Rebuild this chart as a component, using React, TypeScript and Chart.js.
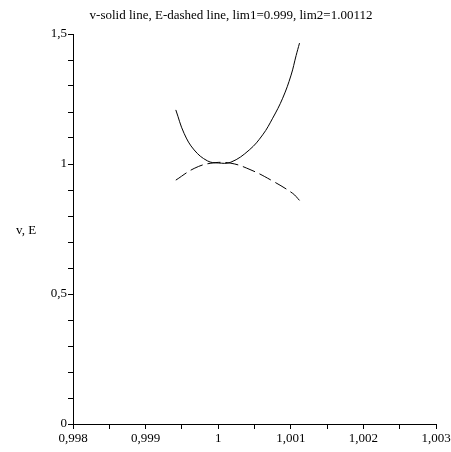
import React, { useEffect, useRef } from "react";
import { Chart, registerables } from "chart.js";

Chart.register(...registerables);

const titleText = "v-solid line, E-dashed line, lim1=0.999, lim2=1.00112";
const yAxisLabel = "v, E";

const vX = [0.999416, 0.99953, 0.999669, 0.999852, 1.0, 1.000175, 1.000428, 1.000612, 1.00075, 1.000888, 1.001004, 1.001073, 1.00112];
const vY = [1.208, 1.118, 1.054, 1.012, 1.004, 1.007, 1.054, 1.112, 1.176, 1.253, 1.342, 1.417, 1.465];

const eX = [0.999416, 0.999669, 0.999899, 1.000175, 1.000452, 1.000728, 1.001026, 1.00112];
const eY = [0.938, 0.983, 1.003, 1.003, 0.977, 0.938, 0.887, 0.86];

const xMin = 0.998;
const xMax = 1.003;
const xStep = 0.0005;
const yMin = 0;
const yMax = 1.5;
const yStep = 0.1;

const FONT = '"Liberation Serif", "DejaVu Serif", serif';

function fmt(v: number): string {
  let s = v.toFixed(3).replace(/0+$/, "").replace(/\.$/, "");
  return s.replace(".", ",");
}

export default function App() {
  const ref = useRef<HTMLCanvasElement | null>(null);

  useEffect(() => {
    if (!ref.current) return;
    const textPlugin = {
      id: "texts",
      afterDraw(chart: any) {
        const ctx = chart.ctx;
        ctx.save();
        ctx.fillStyle = "#000";
        ctx.font = "13px " + FONT;
        ctx.textAlign = "center";
        ctx.textBaseline = "middle";
        ctx.fillText(titleText, 231, 16);
        ctx.textAlign = "left";
        ctx.fillText(yAxisLabel, 16, 231);
        ctx.restore();
      },
    };
    const chart = new Chart(ref.current, {
      type: "line",
      data: {
        datasets: [
          {
            label: "v",
            data: vX.map((x, i) => ({ x, y: vY[i] })),
            borderColor: "#000",
            borderWidth: 1,
            pointRadius: 0,
            tension: 0.4,
            fill: false,
          },
          {
            label: "E",
            data: eX.map((x, i) => ({ x, y: eY[i] })),
            borderColor: "#000",
            borderWidth: 1,
            borderDash: [13, 5],
            pointRadius: 0,
            tension: 0.4,
            fill: false,
          },
        ],
      },
      options: {
        animation: false,
        responsive: false,
        layout: { padding: { top: 34, right: 15, bottom: 0, left: 0 } },
        plugins: { legend: { display: false }, title: { display: false }, tooltip: { enabled: false } },
        scales: {
          x: {
            type: "linear",
            min: xMin,
            max: xMax,
            afterFit: (s: any) => {
              s.height = 28;
              s.paddingLeft = 0;
              s.paddingRight = 0;
            },
            border: { display: true, color: "#000", width: 1 },
            grid: { display: true, drawOnChartArea: false, drawTicks: true, tickLength: 5, color: "#000" },
            ticks: {
              stepSize: xStep,
              autoSkip: false,
              maxRotation: 0,
              padding: 2,
              color: "#000",
              font: { family: FONT, size: 13 },
              callback: (v: any) => {
                const n = Number(v);
                const k = n / 0.001;
                return Math.abs(k - Math.round(k)) < 1e-6 ? fmt(n) : "";
              },
            },
          },
          y: {
            type: "linear",
            min: yMin,
            max: yMax,
            afterFit: (s: any) => {
              s.width = 73;
              s.paddingTop = 0;
              s.paddingBottom = 0;
            },
            border: { display: true, color: "#000", width: 1 },
            grid: { display: true, drawOnChartArea: false, drawTicks: true, tickLength: 5, color: "#000" },
            ticks: {
              stepSize: yStep,
              autoSkip: false,
              padding: 1,
              color: "#000",
              font: { family: FONT, size: 13 },
              callback: (v: any) => {
                const n = Number(v);
                const k = n * 2;
                return Math.abs(k - Math.round(k)) < 1e-6 ? fmt(n) : "";
              },
            },
          },
        },
      },
      plugins: [textPlugin],
    } as any);
    return () => chart.destroy();
  }, []);

  return (
    <div style={{ position: "fixed", left: 0, top: 0, width: 451, height: 452, background: "#fff" }}>
      <canvas ref={ref} width={451} height={452} style={{ width: 451, height: 452, display: "block" }} />
    </div>
  );
}
